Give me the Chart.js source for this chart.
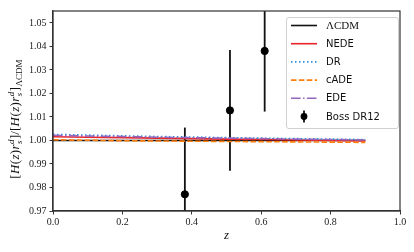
<!DOCTYPE html>
<html>
<head>
<meta charset="utf-8">
<script src="https://cdn.jsdelivr.net/npm/chart.js@4.4.1/dist/chart.umd.min.js"></script>
<style>
  html, body { margin: 0; padding: 0; background: #fff; }
  #grafico { display: block; }
</style>
</head>
<body>
<canvas id="grafico" width="414" height="252"></canvas>
<script>
// valores
const zGrid   = [0.0, 0.1, 0.2, 0.3, 0.4, 0.5, 0.6, 0.7, 0.8, 0.9];
const lcdm    = [1.0000, 1.0000, 1.0000, 1.0000, 1.0000, 1.0000, 1.0000, 1.0000, 1.0000, 1.0000];
const nede    = [1.0016, 1.0014, 1.0012, 1.0010, 1.0008, 1.0006, 1.0004, 1.0002, 1.0000, 0.9998];
const dr      = [1.0026, 1.0023, 1.0020, 1.0017, 1.0015, 1.0012, 1.0010, 1.0008, 1.0006, 1.0004];
const cade    = [1.0003, 1.0001, 0.9999, 0.9998, 0.9997, 0.9996, 0.9995, 0.9994, 0.9993, 0.9992];
const ede     = [1.0022, 1.0019, 1.0017, 1.0014, 1.0012, 1.0010, 1.0008, 1.0006, 1.0004, 1.0002];

const bossZ   = [0.38, 0.51, 0.61];
const bossVal = [0.9771, 1.0128, 1.0381];
const bossErr = [0.0284, 0.0257, 0.0258];

const xTicks  = [0.0, 0.2, 0.4, 0.6, 0.8, 1.0];
const yTicks  = [0.97, 0.98, 0.99, 1.00, 1.01, 1.02, 1.03, 1.04, 1.05];

const serif = '"Liberation Serif", "DejaVu Serif", serif';
const sans  = '"DejaVu Sans", sans-serif';

function puntos(ys) {
    return zGrid.map((z, i) => ({ x: z, y: ys[i] }));
}

function serie(label, ys, color, dash, order) {
    return {
        type: 'line',
        label: label,
        data: puntos(ys),
        borderColor: color,
        borderWidth: 1.6,
        borderDash: dash,
        pointRadius: 0,
        fill: false,
        tension: 0,
        order: order
    };
}

const datasets = [
    serie('ΛCDM', lcdm, '#111111', [], 6),
    serie('NEDE', nede, '#e8262a', [], 5),
    serie('DR', dr, '#2f8fd8', [1.5, 2.5], 4),
    serie('cADE', cade, '#ff7f0e', [5.5, 2.4], 3),
    serie('EDE', ede, '#9467bd', [9.6, 2.4, 1.5, 2.4], 2),
    {
        type: 'scatter',
        label: 'Boss DR12',
        data: bossZ.map((z, i) => ({ x: z, y: bossVal[i] })),
        backgroundColor: '#000',
        borderColor: '#000',
        pointRadius: 3.6,
        order: 0
    }
];

// barras de error, marco y etiquetas
const extras = {
    id: 'extras',
    beforeDatasetsDraw(chart) {
        const ctx = chart.ctx;
        const xs = chart.scales.x, ys = chart.scales.y;
        const a = chart.chartArea;
        ctx.save();
        ctx.beginPath();
        ctx.rect(a.left, a.top, a.right - a.left, a.bottom - a.top);
        ctx.clip();
        ctx.strokeStyle = '#111';
        ctx.lineWidth = 1.8;
        bossZ.forEach((z, i) => {
            const px = xs.getPixelForValue(z);
            ctx.beginPath();
            ctx.moveTo(px, ys.getPixelForValue(bossVal[i] - bossErr[i]));
            ctx.lineTo(px, ys.getPixelForValue(bossVal[i] + bossErr[i]));
            ctx.stroke();
        });
        ctx.restore();
    },
    afterDraw(chart) {
        const ctx = chart.ctx;
        const a = chart.chartArea;
        ctx.save();
        // marco
        ctx.strokeStyle = '#333';
        ctx.lineWidth = 1.2;
        ctx.strokeRect(a.left, a.top, a.right - a.left, a.bottom - a.top);

        // etiqueta x
        ctx.fillStyle = '#111';
        ctx.font = 'italic 13px ' + serif;
        ctx.textAlign = 'center';
        ctx.textBaseline = 'middle';
        ctx.fillText('z', (a.left + a.right) / 2, 236);

        // etiqueta y
        ctx.translate(14, (a.top + a.bottom) / 2 + 8);
        ctx.rotate(-Math.PI / 2);
        const normal = 13, small = 9;
        const runs = [
            { t: '[', f: normal + 'px ' + serif, dy: 0 },
            { t: 'H', f: 'italic ' + normal + 'px ' + serif, dy: 0 },
            { t: '(', f: normal + 'px ' + serif, dy: 0 },
            { t: 'z', f: 'italic ' + normal + 'px ' + serif, dy: 0 },
            { t: ')', f: normal + 'px ' + serif, dy: 0 },
            { t: 'r', f: 'italic ' + normal + 'px ' + serif, dy: 0 },
            { t: 'd', f: 'italic ' + small + 'px ' + serif, dy: -5, stack: 's' },
            { t: ']/[', f: normal + 'px ' + serif, dy: 0 },
            { t: 'H', f: 'italic ' + normal + 'px ' + serif, dy: 0 },
            { t: '(', f: normal + 'px ' + serif, dy: 0 },
            { t: 'z', f: 'italic ' + normal + 'px ' + serif, dy: 0 },
            { t: ')', f: normal + 'px ' + serif, dy: 0 },
            { t: 'r', f: 'italic ' + normal + 'px ' + serif, dy: 0 },
            { t: 'd', f: 'italic ' + small + 'px ' + serif, dy: -5, stack: 's' },
            { t: ']', f: normal + 'px ' + serif, dy: 0 },
            { t: 'ΛCDM', f: small + 'px ' + serif, dy: 3 }
        ];
        let total = 0;
        runs.forEach(r => { ctx.font = r.f; r.w = ctx.measureText(r.t).width + 0.4; total += r.w; });
        let x = -total / 2;
        ctx.textAlign = 'left';
        ctx.textBaseline = 'alphabetic';
        runs.forEach(r => {
            ctx.font = r.f;
            ctx.fillText(r.t, x, 5 + r.dy);
            if (r.stack) ctx.fillText(r.stack, x, 5 + 3);
            x += r.w;
        });
        ctx.restore();

        // leyenda
        ctx.save();
        const lx = 286, ly = 17, lw = 112, lh = 111;
        ctx.fillStyle = 'rgba(255,255,255,0.85)';
        ctx.strokeStyle = '#d0d0d0';
        ctx.lineWidth = 1;
        ctx.beginPath();
        ctx.roundRect(lx + 0.5, ly + 0.5, lw, lh, 2.5);
        ctx.fill();
        ctx.stroke();
        chart.data.datasets.forEach((ds, i) => {
            const yy = 25.5 + i * 18.2;
            if (ds.type === 'line') {
                ctx.strokeStyle = ds.borderColor;
                ctx.lineWidth = ds.borderWidth;
                ctx.setLineDash(ds.borderDash);
                ctx.beginPath();
                ctx.moveTo(291, yy);
                ctx.lineTo(317, yy);
                ctx.stroke();
                ctx.setLineDash([]);
            } else {
                ctx.strokeStyle = '#111';
                ctx.lineWidth = 1.8;
                ctx.beginPath();
                ctx.moveTo(304, yy - 6);
                ctx.lineTo(304, yy + 6);
                ctx.stroke();
                ctx.fillStyle = '#000';
                ctx.beginPath();
                ctx.arc(304, yy, 3.4, 0, Math.PI * 2);
                ctx.fill();
            }
            ctx.fillStyle = '#111';
            ctx.font = (ds.label === 'ΛCDM' ? '11px ' + serif : '10px ' + sans);
            ctx.textAlign = 'left';
            ctx.textBaseline = 'middle';
            ctx.fillText(ds.label, 326, yy + 0.5);
        });
        ctx.restore();
    }
};

new Chart(document.getElementById('grafico'), {
    data: { datasets: datasets },
    options: {
        responsive: false,
        animation: false,
        devicePixelRatio: 1,
        layout: { padding: { left: 0, right: 14, top: 11, bottom: 0 } },
        plugins: { legend: { display: false }, tooltip: { enabled: false } },
        scales: {
            x: {
                type: 'linear',
                min: 0,
                max: 1,
                afterBuildTicks: s => { s.ticks = xTicks.map(v => ({ value: v })); },
                afterFit: s => { s.height = 41; },
                ticks: {
                    callback: v => v.toFixed(1),
                    font: { family: serif, size: 10 },
                    color: '#222',
                    padding: 2,
                    maxRotation: 0
                },
                grid: { display: true, drawOnChartArea: false, tickLength: 3.5, color: '#333', tickWidth: 1 },
                border: { display: true, color: '#333', width: 1.2 }
            },
            y: {
                type: 'linear',
                min: 0.97,
                max: 1.0551,
                afterBuildTicks: s => { s.ticks = yTicks.map(v => ({ value: v })); },
                afterFit: s => { s.width = 53; },
                ticks: {
                    callback: v => v.toFixed(2),
                    font: { family: serif, size: 10 },
                    color: '#222',
                    padding: 3
                },
                grid: { display: true, drawOnChartArea: false, tickLength: 3.5, color: '#333', tickWidth: 1 },
                border: { display: true, color: '#333', width: 1.2 }
            }
        }
    },
    plugins: [extras]
});
</script>
</body>
</html>
